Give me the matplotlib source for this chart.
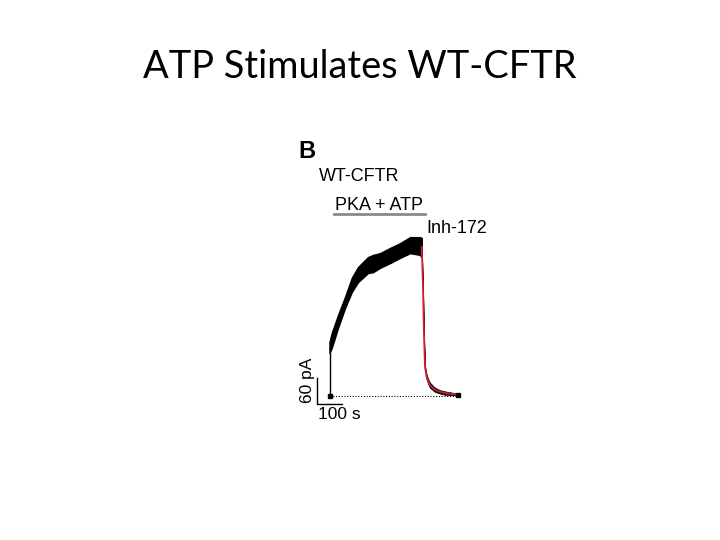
import matplotlib
matplotlib.use("Agg")
import matplotlib.pyplot as plt

# ---- data (time in s, current in pA) ----
rise_t     = [0, 9, 34, 62, 89, 114, 154, 174, 202, 242, 282, 322, 362, 369]
rise_upper = [125, 146, 187, 229, 273, 298, 321, 326, 330, 342, 353, 367, 367, 365]
rise_lower = [100, 111, 157, 203, 240, 263, 284, 286, 296, 307, 319, 330, 326, 319]

decay_t     = [369, 374, 378, 382, 388, 395, 402, 420, 440, 460, 490, 514]
decay_mean  = [345, 250, 140, 67, 45, 33, 25, 15, 10, 7, 5, 3]
decay_noise = [4, 4, 4, 5, 6, 6, 6, 5, 4, 4, 3, 2]

scale_time = 100   # s
scale_curr = 60    # pA
scale_origin = (-51, -18.5)

title = "ATP Stimulates WT-CFTR"
panel_label = "B"
construct_label = "WT-CFTR"
treatment_label = "PKA + ATP"
inhibitor_label = "Inh-172"

W, H = 720, 540
fig = plt.figure(figsize=(7.2, 5.4), dpi=100)
fig.patch.set_facecolor("white")

def fx(px):
    return px / W

def fy(py):
    return 1 - py / H

# axes in data units placed to match the reference panel
ax = fig.add_axes([fx(290), fy(430), (500 - 290) / W, (430 - 130) / H])
ax.set_xlim(-158, 682)
ax.set_ylim(-78.5, 614.5)
ax.axis("off")

# baseline (dotted)
ax.plot([0, decay_t[-1]], [0, 0], color="black", lw=0.8, ls=(0, (1, 1.5)))
# jump at start
ax.plot([0, 0], [0, rise_upper[0]], color="black", lw=1.0)
# noisy rising current
ax.fill_between(rise_t, rise_lower, rise_upper, color="black", lw=1.0, edgecolor="black")
# noisy decay (black) with red fit
dl = [m - n for m, n in zip(decay_mean, decay_noise)]
du = [m + n for m, n in zip(decay_mean, decay_noise)]
ax.fill_between(decay_t, dl, du, color="black", lw=0.5, edgecolor="black")
ax.plot(decay_t, decay_mean, color="#d3202c", lw=1.3)
# endpoint markers
ax.plot([0], [0], marker="s", ms=3.5, color="black")
ax.plot([decay_t[-1]], [decay_mean[-1]], marker="s", ms=3.0, color="black")

# scale bar
x0, y0 = scale_origin
ax.plot([x0, x0, x0 + scale_time], [y0 + scale_curr, y0, y0], color="black", lw=1.0)
ax.text(x0 + 4, y0 - 8, f"{scale_time} s", ha="left", va="top",
        fontsize=12.5, family="Liberation Sans")
ax.text(x0 - 8, y0 + 2, f"{scale_curr} pA", ha="right", va="bottom", rotation=90,
        fontsize=12.5, family="Liberation Sans")

# labels
sans = "Liberation Sans"
fig.text(fx(298), fy(151), panel_label, ha="left", va="center",
         fontsize=17, fontweight="bold", family=sans)
fig.text(fx(359), fy(177), construct_label, ha="center", va="center",
         fontsize=13, family=sans)
fig.text(fx(379), fy(206), treatment_label, ha="center", va="center",
         fontsize=13, family=sans)
fig.add_artist(plt.Line2D([fx(334), fx(425)], [fy(214), fy(214)],
                          color="#8a8a8a", lw=2.0))
fig.text(fx(426), fy(228), inhibitor_label, ha="left", va="center",
         fontsize=13, family=sans)

# slide title
fig.text(fx(360), fy(67), title, ha="center", va="center",
         fontsize=27.4, family="Lato")

fig.savefig("out.png", dpi=100)
